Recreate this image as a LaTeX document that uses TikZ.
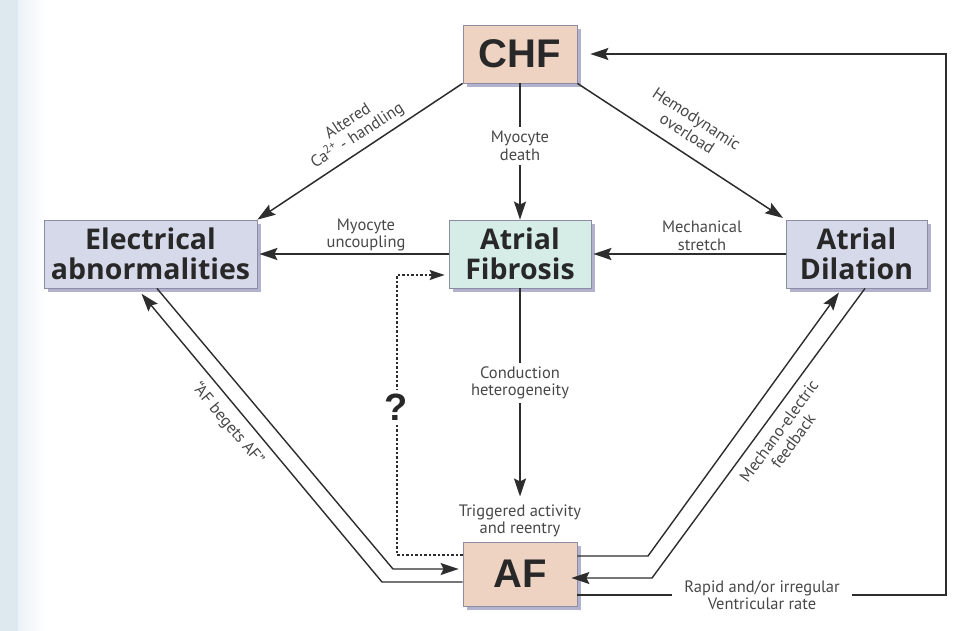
\documentclass[tikz,border=0pt]{standalone}
\usepackage{fontspec}
\setmainfont{PT Sans}
\newfontfamily\headfont{Liberation Sans}
\newfontfamily\boxfont{Open Sans}
\usetikzlibrary{arrows.meta,calc,shadows}

\definecolor{peach}{RGB}{239,211,194}
\definecolor{lavender}{RGB}{214,217,234}
\definecolor{mint}{RGB}{214,236,231}
\definecolor{shade}{RGB}{178,178,206}
\definecolor{frame}{RGB}{140,140,162}
\definecolor{ink}{RGB}{40,40,40}
\definecolor{labelink}{RGB}{72,72,72}
\definecolor{lineink}{RGB}{45,45,45}
\definecolor{stripA}{RGB}{221,232,239}
\definecolor{stripB}{RGB}{236,242,246}

\begin{document}
\begin{tikzpicture}[x=1pt,y=-1pt,
  box/.style={draw=frame, line width=0.8pt, inner sep=0pt, align=center, text=ink,
    drop shadow={shadow xshift=4pt, shadow yshift=-4pt, fill=shade, opacity=1}},
  bigbox/.style={box, font=\headfont\bfseries\fontsize{40}{42}\selectfont},
  wordbox/.style={box, font=\boxfont\bfseries\fontsize{28.5}{30}\selectfont},
  lbl/.style={font=\fontsize{16.5}{17.5}\selectfont, text=labelink, align=center, inner sep=1pt},
  cutlbl/.style={lbl, fill=white, inner ysep=4pt},
  tip/.style={-{Stealth[length=18pt,width=12pt,inset=3pt]}},
  conn/.style={draw=lineink, line width=1.8pt},
  pair/.style={draw=lineink, line width=1.4pt},
  dotted line/.style={draw=lineink, line width=1.5pt, dash pattern=on 2.5pt off 2pt}
]
% canvas and left strip
\fill[white] (0,0) rectangle (976,631);
\fill[stripA] (0,0) rectangle (18,631);
\shade[left color=stripB, right color=white] (18,0) rectangle (46,631);
\useasboundingbox (0,0) rectangle (976,631);

% boxes
\node[bigbox, fill=peach, minimum width=114pt, minimum height=58pt] (chf) at (520,54) {CHF};
\node[bigbox, fill=peach, minimum width=114pt, minimum height=64pt] (af) at (520,574) {AF};
\node[wordbox, fill=mint, minimum width=142pt, minimum height=68pt] (fib) at (520,254) {Atrial\\Fibrosis};
\node[wordbox, fill=lavender, minimum width=213pt, minimum height=68pt] (elec) at (150.5,254) {Electrical\\abnormalities};
\node[wordbox, fill=lavender, minimum width=141pt, minimum height=68pt] (dil) at (856.5,254) {Atrial\\Dilation};

% label nodes that interrupt lines
\node[lbl] (trig) at (520,521) {Triggered activity\\and reentry};
\node[lbl, inner xsep=12pt] (rate) at (762,595) {Rapid and/or irregular\\Ventricular rate};

% bend points
\coordinate (lA) at (393,569);
\coordinate (lB) at (382,582);
\coordinate (rA) at (648,556);
\coordinate (rB) at (652,578);
\coordinate (rc) at (946,595);
\coordinate (tc) at (946,54);
\coordinate (dA) at (397,555);
\coordinate (dB) at (397,275);

% connectors from CHF
\draw[conn, line width=1.5pt, tip] (chf.south west) -- (elec.north east);
\draw[conn, line width=1.5pt, tip, shorten >=3pt] (chf.south east) -- (dil.north west);
\draw[conn, tip] (chf.south) -- (fib.north);

% horizontal connectors into Electrical abnormalities and Atrial Fibrosis
\draw[conn, tip, shorten >=2pt] (fib.west) -- (elec.east);
\draw[conn, tip, shorten >=2pt] (dil.west) -- (fib.east);

% Atrial Fibrosis down to AF
\draw[conn, tip] (fib.south) -- ([yshift=7pt]trig.north);

% left pair
\draw[pair, tip, shorten >=4pt] ($(elec.south west)!0.53!(elec.south east)$) -- (lA) -- (af.west |- lA);
\draw[pair, tip, shorten >=7pt] (af.west |- lB) -- (lB) -- ($(elec.south west)!0.437!(elec.south east)$);

% right pair
\draw[pair, tip, shorten >=5pt] (af.east |- rA) -- (rA) -- ($(dil.south west)!0.397!(dil.south east)$);
\draw[pair, tip, shorten >=-6pt] ($(dil.south west)!0.56!(dil.south east)$) -- (rB) -- (af.east |- rB);

% ventricular rate feedback to CHF
\draw[conn, line width=1.5pt] (af.east |- rate) -- (rate.west);
\draw[conn, line width=1.5pt, tip, shorten >=13pt] (rate.east) -- (rc) -- (tc) -- (chf.east);

% uncertain link from AF to Atrial Fibrosis
\draw[dotted line, -{Stealth[length=15pt,width=10pt,inset=2.5pt]}, shorten >=4pt]
  (af.west |- dA) -- (dA) -- (dB) -- (fib.west |- dB);
\node[fill=white, inner xsep=2pt, inner ysep=4pt, text=ink, font=\headfont\bfseries\fontsize{38}{40}\selectfont] (q) at (396,407) {?};

% labels on the connectors
\node[cutlbl] (death) at (520,146) {Myocyte\\death};
\node[cutlbl] (cond) at (520,383) {Conduction\\heterogeneity};
\node[lbl] (uncoup) at (366,235) {Myocyte\\uncoupling};
\node[lbl] (stretch) at (702,236) {Mechanical\\stretch};
\node[lbl, rotate=33] (calc) at (353,129) {Altered\\Ca\textsuperscript{2+} - handling};
\node[lbl, rotate=-33] (hemo) at (692,126) {Hemodynamic\\overload};
\node[lbl, rotate=-50] (beget) at (228,424) {“AF begets AF”};
\node[lbl, rotate=54] (mech) at (786,436) {Mechano-electric\\feedback};
\end{tikzpicture}
\end{document}
